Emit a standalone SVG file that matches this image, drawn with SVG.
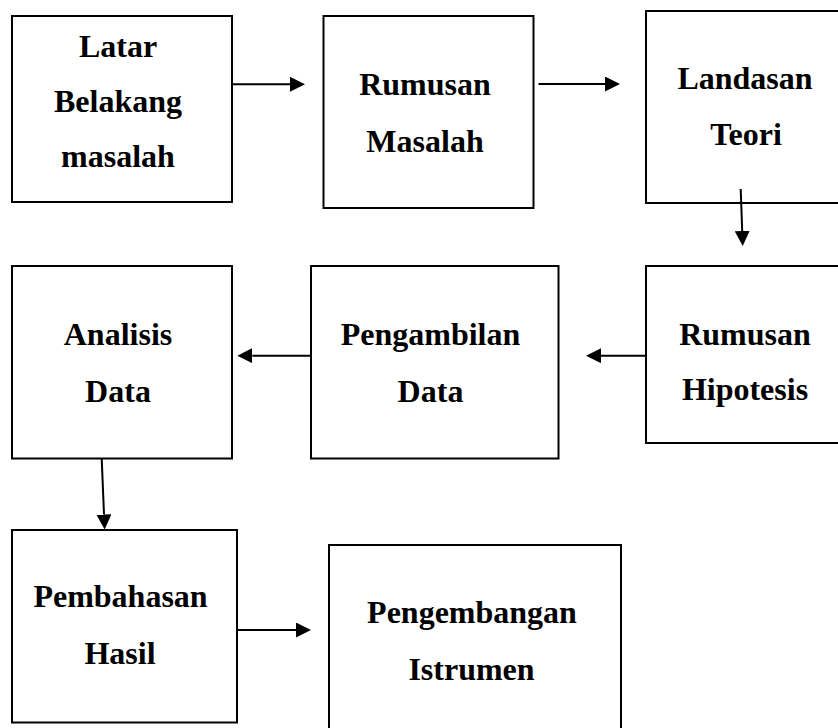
<svg xmlns="http://www.w3.org/2000/svg" width="838" height="728" viewBox="0 0 838 728">
<style>
.box{fill:#fff;stroke:#000;stroke-width:2}
.lbl{font-family:"Liberation Serif","Times New Roman",serif;font-weight:bold;font-size:32px;fill:#000;text-anchor:middle}
.con{stroke:#000;stroke-width:2;fill:none;marker-end:url(#ah)}
</style>
<defs>
<marker id="ah" viewBox="0 0 15 15" refX="0" refY="7.5" markerWidth="15" markerHeight="15" markerUnits="userSpaceOnUse" orient="auto">
<path d="M0,0 L15,7.5 L0,15 Z" fill="#000"/>
</marker>
</defs>
<rect width="838" height="728" fill="#fff"/>
<g id="n1"><rect class="box" x="12" y="16" width="220" height="186"/>
<text class="lbl" x="118" y="57">Latar</text><text class="lbl" x="118" y="112">Belakang</text><text class="lbl" x="118" y="167">masalah</text></g>
<g id="n2"><rect class="box" x="323.5" y="16" width="210" height="192"/>
<text class="lbl" x="425" y="95">Rumusan</text><text class="lbl" x="425" y="152">Masalah</text></g>
<g id="n3"><rect class="box" x="646" y="11" width="200" height="192"/>
<text class="lbl" x="745" y="89">Landasan</text><text class="lbl" x="746" y="145">Teori</text></g>
<g id="n4"><rect class="box" x="646" y="266" width="200" height="177"/>
<text class="lbl" x="745" y="345">Rumusan</text><text class="lbl" x="745" y="400">Hipotesis</text></g>
<g id="n5"><rect class="box" x="311" y="266" width="247.5" height="192.5"/>
<text class="lbl" x="430.5" y="345">Pengambilan</text><text class="lbl" x="430.5" y="402">Data</text></g>
<g id="n6"><rect class="box" x="12" y="266" width="220" height="192.5"/>
<text class="lbl" x="118" y="345">Analisis</text><text class="lbl" x="118" y="402">Data</text></g>
<g id="n7"><rect class="box" x="12" y="530" width="225" height="192.5"/>
<text class="lbl" x="120.5" y="607">Pembahasan</text><text class="lbl" x="120" y="664">Hasil</text></g>
<g id="n8"><rect class="box" x="329" y="545" width="292" height="200"/>
<text class="lbl" x="472" y="623">Pengembangan</text><text class="lbl" x="471.5" y="680">Istrumen</text></g>
<g id="connectors">
<line class="con" x1="232" y1="84.3" x2="290" y2="84.3"/>
<line class="con" x1="538.5" y1="84" x2="605" y2="84"/>
<line class="con" x1="740.7" y1="189" x2="742.2" y2="231"/>
<line class="con" x1="645.7" y1="355.7" x2="601" y2="355.7"/>
<line class="con" x1="311" y1="355.7" x2="252.3" y2="355.7"/>
<line class="con" x1="101.7" y1="458.5" x2="104" y2="514.5"/>
<line class="con" x1="237" y1="630" x2="296" y2="630"/>
</g>
</svg>
